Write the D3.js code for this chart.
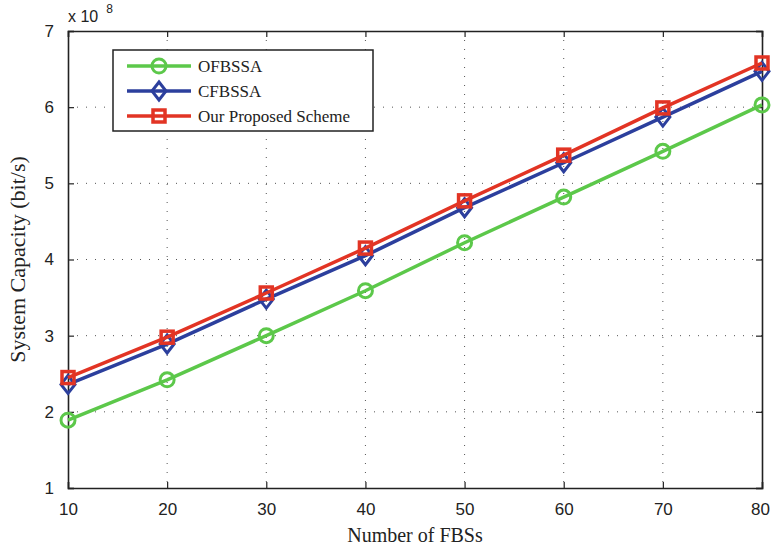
<!DOCTYPE html>
<html>
<head>
<meta charset="utf-8">
<script src="https://cdn.jsdelivr.net/npm/d3@7"></script>
<style>
  body { margin: 0; background: #fff; }
  svg { display: block; }
</style>
</head>
<body>
<div id="chart"></div>
<script>
// Data (capacity in units of 1e8 bit/s)
const fbs = [10, 20, 30, 40, 50, 60, 70, 80];
const ofbssa = [1.89, 2.42, 3.00, 3.59, 4.22, 4.82, 5.42, 6.03];
const cfbssa = [2.36, 2.89, 3.48, 4.05, 4.68, 5.27, 5.87, 6.47];
const proposed = [2.45, 2.98, 3.56, 4.15, 4.77, 5.37, 5.99, 6.58];
const xTicks = [10, 20, 30, 40, 50, 60, 70, 80];
const yTicks = [1, 2, 3, 4, 5, 6, 7];

const width = 771, height = 552,
    margin = {top: 31, right: 9, bottom: 64, left: 68};
const innerWidth = width - margin.left - margin.right;
const innerHeight = height - margin.top - margin.bottom;

const svg = d3.select("#chart")
  .append("svg")
  .attr("width", width)
  .attr("height", height);

const g = svg.append("g")
  .attr("transform", `translate(${margin.left}, ${margin.top})`);

const x = d3.scaleLinear().domain([10, 80]).range([0, innerWidth]);
const y = d3.scaleLinear().domain([1, 7]).range([innerHeight, 0]);

// Grid (dotted)
g.selectAll(".vgrid")
  .data(xTicks.slice(1, -1))
  .enter().append("line")
  .attr("x1", d => x(d)).attr("x2", d => x(d))
  .attr("y1", 0).attr("y2", innerHeight)
  .attr("stroke", "#555").attr("stroke-width", 1)
  .attr("stroke-dasharray", "1,8");

g.selectAll(".hgrid")
  .data(yTicks.slice(1, -1))
  .enter().append("line")
  .attr("x1", 0).attr("x2", innerWidth)
  .attr("y1", d => y(d)).attr("y2", d => y(d))
  .attr("stroke", "#555").attr("stroke-width", 1)
  .attr("stroke-dasharray", "1,8");

// Axes (ticks inward, box around)
const tickFont = "'Liberation Sans', Arial, sans-serif";
g.append("g")
  .attr("transform", `translate(0,${innerHeight})`)
  .call(d3.axisBottom(x).tickValues(xTicks).tickSize(-6).tickPadding(15).tickFormat(d3.format("d")));
g.append("g")
  .call(d3.axisLeft(y).tickValues(yTicks).tickSize(-6).tickPadding(14).tickFormat(d3.format("d")));
g.append("g").attr("class", "mirror")
  .call(d3.axisTop(x).tickValues(xTicks).tickSize(-6).tickFormat(""));
g.append("g").attr("class", "mirror")
  .attr("transform", `translate(${innerWidth},0)`)
  .call(d3.axisRight(y).tickValues(yTicks).tickSize(-6).tickFormat(""));
g.selectAll(".mirror .tick text").remove();

g.selectAll(".domain").attr("stroke", "#222").attr("stroke-width", 1.6);
g.selectAll(".tick line").attr("stroke", "#222").attr("stroke-width", 1.2);
g.selectAll(".tick text")
  .attr("fill", "#222")
  .style("font-family", tickFont)
  .style("font-size", "17px");

// keep the last x label inside the page
g.selectAll(".tick text").filter(d => d === 80).attr("dx", "-2");

// Exponent label
const expo = svg.append("text")
  .attr("x", margin.left)
  .attr("y", 22)
  .attr("fill", "#222")
  .style("font-family", tickFont)
  .style("font-size", "16px");
expo.append("tspan").text("x 10");
expo.append("tspan").attr("dx", 8).attr("dy", -9).style("font-size", "12px").text("8");

// Axis labels
svg.append("text")
  .attr("x", margin.left + innerWidth / 2)
  .attr("y", height - 10)
  .attr("text-anchor", "middle")
  .style("font-family", "'Liberation Serif', 'Times New Roman', serif")
  .style("font-size", "20px")
  .attr("fill", "#222")
  .text("Number of FBSs");

svg.append("text")
  .attr("transform", `translate(25, ${margin.top + innerHeight / 2}) rotate(-90)`)
  .attr("text-anchor", "middle")
  .style("font-family", "'Liberation Serif', 'Times New Roman', serif")
  .style("font-size", "22px")
  .attr("fill", "#222")
  .text("System Capacity (bit/s)");

// Series
const series = [
  {name: "OFBSSA", values: ofbssa, color: "#5cc84a", marker: "circle"},
  {name: "CFBSSA", values: cfbssa, color: "#2c3f9d", marker: "diamond"},
  {name: "Our Proposed Scheme", values: proposed, color: "#e23424", marker: "square"}
];

const line = d3.line()
  .x((d, i) => x(fbs[i]))
  .y(d => y(d));

function drawMarker(sel, type, color) {
  if (type === "circle") {
    sel.append("circle").attr("r", 7)
      .attr("fill", "none").attr("stroke", color).attr("stroke-width", 3);
  } else if (type === "diamond") {
    sel.append("path").attr("d", "M0,-9L7,0L0,9L-7,0Z")
      .attr("fill", "none").attr("stroke", color).attr("stroke-width", 3);
  } else {
    sel.append("rect").attr("x", -6).attr("y", -6).attr("width", 12).attr("height", 12)
      .attr("fill", "none").attr("stroke", color).attr("stroke-width", 3.5);
  }
}

series.forEach(s => {
  g.append("path")
    .datum(s.values)
    .attr("fill", "none")
    .attr("stroke", s.color)
    .attr("stroke-width", 3.5)
    .attr("d", line);

  s.values.forEach((v, i) => {
    const m = g.append("g").attr("transform", `translate(${x(fbs[i])},${y(v)})`);
    drawMarker(m, s.marker, s.color);
  });
});

// Legend
const legend = svg.append("g").attr("transform", "translate(113, 50)");
legend.append("rect")
  .attr("width", 260).attr("height", 81)
  .attr("fill", "#fff").attr("stroke", "#222").attr("stroke-width", 1.5);

const items = legend.selectAll(".legend-item")
  .data(series)
  .enter().append("g")
  .attr("class", "legend-item")
  .attr("transform", (d, i) => `translate(0, ${16 + i * 25})`);

items.append("line")
  .attr("x1", 14).attr("x2", 78)
  .attr("stroke", d => d.color).attr("stroke-width", 3.5);

items.each(function (d) {
  const m = d3.select(this).append("g").attr("transform", "translate(46,0)");
  drawMarker(m, d.marker, d.color);
});

items.append("text")
  .attr("x", 85).attr("y", 6)
  .style("font-family", "'Liberation Serif', 'Times New Roman', serif")
  .style("font-size", "17px")
  .attr("fill", "#222")
  .text(d => d.name);
</script>
</body>
</html>
